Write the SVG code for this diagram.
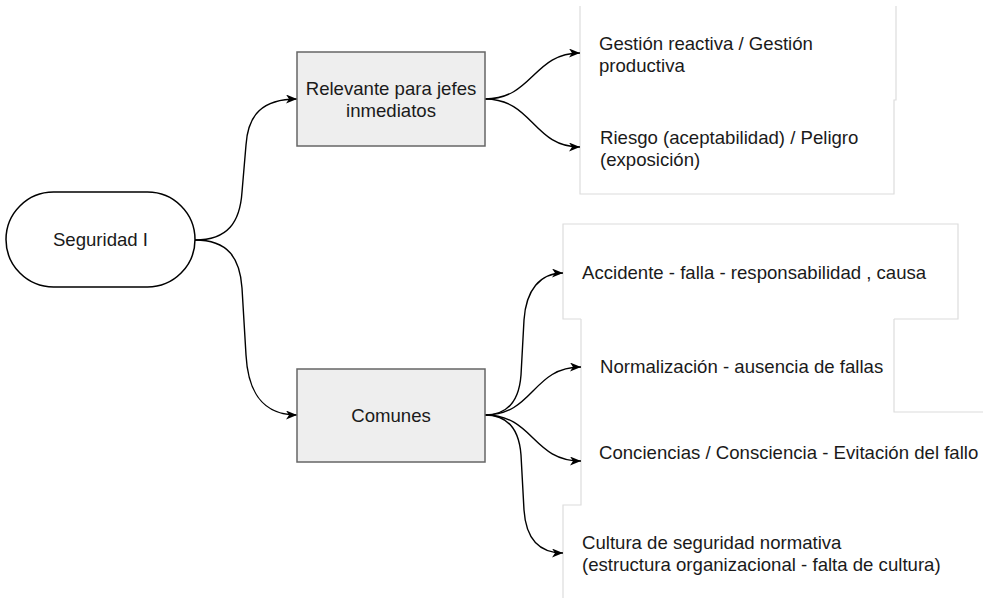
<svg xmlns="http://www.w3.org/2000/svg" width="983" height="598" viewBox="0 0 983 598">
<style>
  .t { font-family: "Liberation Sans", Arial, Helvetica, sans-serif; font-size: 18.6px; fill: #1a1a1a; }
  .c { text-anchor: middle; }
  .frame { fill: none; stroke: #dcdcdc; stroke-width: 1.2; }
  .edge { fill: none; stroke: #000; stroke-width: 1.4; marker-end: url(#arr); }
  .box { fill: #eeeeee; stroke: #666666; stroke-width: 1.5; }
</style>
<defs>
  <marker id="arr" markerUnits="userSpaceOnUse" markerWidth="12" markerHeight="10" refX="11" refY="4.5" orient="auto">
    <path d="M0,0 L11,4.5 L0,9 L3,4.5 Z" fill="#000"/>
  </marker>
</defs>
<rect width="983" height="598" fill="#ffffff"/>

<g id="frames">
  <path class="frame" d="M580,6 V194 H894 V100 H896 V6"/>
  <path class="frame" d="M581,319 H563 V224 H958 V319 H894"/>
  <path class="frame" d="M581,319 V505 H563 V598"/>
  <path class="frame" d="M894,319 V412 H983"/>
</g>

<g id="connectors">
  <path class="edge" d="M195,240 C228,240 240,222 242,192 L246,145 C248,115 262,99 297,99"/>
  <path class="edge" d="M195,240 C228,240 240,258 242,288 L246,355 C248,392 262,415 297,415"/>
  <path class="edge" d="M485,99 C533,99 533,53 580,53"/>
  <path class="edge" d="M485,99 C533,99 533,147 580,147"/>
  <path class="edge" d="M485,415 C507,415 519,402 521,375 L524,320 C526,290 540,273 563,273"/>
  <path class="edge" d="M485,415 C534,415 532,367 581,367"/>
  <path class="edge" d="M485,415 C534,415 532,461 581,461"/>
  <path class="edge" d="M485,415 C507,415 519,428 521,455 L524,510 C526,540 540,553 563,553"/>
</g>

<g id="root">
  <rect x="6" y="192" width="189" height="95" rx="47.5" ry="47.5" fill="#ffffff" stroke="#000" stroke-width="1.5"/>
  <text class="t c" x="100.5" y="246">Seguridad I</text>
</g>

<g id="relevante">
  <rect class="box" x="297" y="52" width="188" height="94"/>
  <text class="t c" x="391" y="95">Relevante para jefes</text>
  <text class="t c" x="391" y="117">inmediatos</text>
</g>

<g id="comunes">
  <rect class="box" x="297" y="369" width="188" height="93"/>
  <text class="t c" x="391" y="422">Comunes</text>
</g>

<g id="gestion">
  <text class="t" x="599" y="50">Gestión reactiva / Gestión</text>
  <text class="t" x="599" y="72">productiva</text>
</g>

<g id="riesgo">
  <text class="t" x="600" y="144">Riesgo (aceptabilidad) / Peligro</text>
  <text class="t" x="600" y="166">(exposición)</text>
</g>

<g id="accidente">
  <text class="t" x="582" y="279">Accidente - falla - responsabilidad , causa</text>
</g>

<g id="normalizacion">
  <text class="t" x="600" y="373">Normalización - ausencia de fallas</text>
</g>

<g id="conciencias">
  <text class="t" x="599" y="459">Conciencias / Consciencia - Evitación del fallo</text>
</g>

<g id="cultura">
  <text class="t" x="582" y="549">Cultura de seguridad normativa</text>
  <text class="t" x="582" y="571">(estructura organizacional - falta de cultura)</text>
</g>
</svg>
